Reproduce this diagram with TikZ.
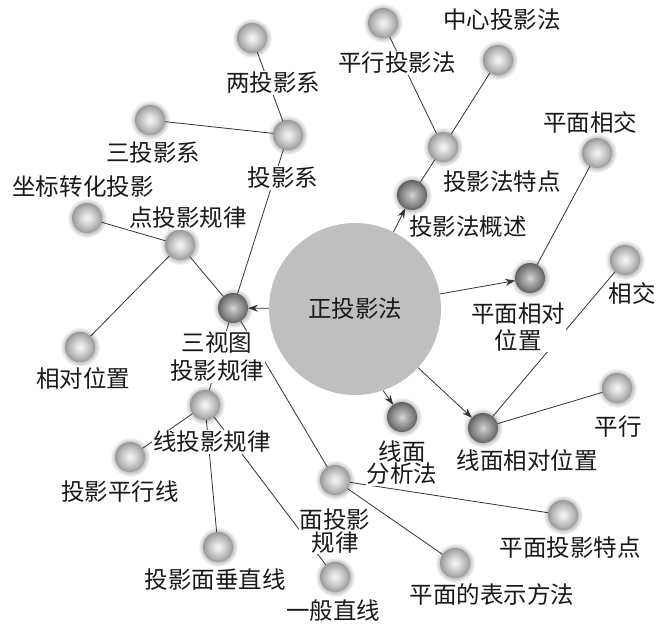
\documentclass[tikz,border=0pt]{standalone}
\usepackage{fontspec}
\newfontfamily\cjk{Noto Sans CJK SC}
\usetikzlibrary{arrows.meta}
\pgfdeclarelayer{halolayer}
\pgfdeclarelayer{linelayer}
\pgfsetlayers{halolayer,linelayer,main}
\pgfdeclareradialshading{lightball}{\pgfpoint{0bp}{0bp}}{color(0bp)=(white!96!black); color(6bp)=(white!90!black); color(18bp)=(black!28); color(25bp)=(black!40); color(50bp)=(black!40)}
\pgfdeclareradialshading{darkball}{\pgfpoint{0bp}{0bp}}{color(0bp)=(white!85!black); color(6bp)=(black!28); color(18bp)=(black!48); color(25bp)=(black!62); color(50bp)=(black!62)}
\pgfdeclareradialshading{haloshade}{\pgfpoint{0bp}{0bp}}{color(0bp)=(black!30); color(17bp)=(black!30); color(25bp)=(white); color(50bp)=(white)}
\tikzset{
  ballL/.style={circle, minimum size=30pt, inner sep=0pt, outer sep=0pt, shading=lightball},
  ballD/.style={circle, minimum size=30pt, inner sep=0pt, outer sep=0pt, shading=darkball},
  lab/.style={fill=white, inner sep=1pt, font=\cjk\fontsize{23.5}{26}\selectfont, text=black!90, align=center},
  con/.style={draw=black!80, line width=0.8pt},
  arr/.style={con, -{Stealth[length=10pt,width=7pt]}},
}
\begin{document}
\begin{tikzpicture}[x=1pt,y=-1pt]
\useasboundingbox (0,0) rectangle (660,627);
% central circle
\node[circle, fill=black!25, minimum size=172pt, inner sep=0pt, font=\cjk\fontsize{23.5}{26}\selectfont, text=black!90] (c) at (355,309) {正投影法};
% labels
\node[lab] (tA) at (273,83) {两投影系};
\node[lab] (tB) at (283,178) {投影系};
\node[lab] (tC) at (153,153) {三投影系};
\node[lab] (tD) at (83,187) {坐标转化投影};
\node[lab] (tE) at (188,218) {点投影规律};
\node[lab] (tF) at (217,357) {三视图\\[2pt]投影规律};
\node[lab] (tG) at (83,378) {相对位置};
\node[lab] (tH) at (212,442) {线投影规律};
\node[lab] (tI) at (120,492) {投影平行线};
\node[lab] (tJ) at (215,580) {投影面垂直线};
\node[lab] (tK) at (333,611) {一般直线};
\node[lab] (tL) at (335,531) {面投影\\[-3pt]规律};
\node[lab] (tM) at (492,595) {平面的表示方法};
\node[lab] (tN) at (570,548) {平面投影特点};
\node[lab] (tO) at (402,463) {线面\\[-4pt]分析法};
\node[lab] (tP) at (527,460) {线面相对位置};
\node[lab] (tQ) at (618,427) {平行};
\node[lab] (tR) at (632,293) {相交};
\node[lab] (tS) at (518,327) {平面相对\\[1pt]位置};
\node[lab] (tT) at (590,122) {平面相交};
\node[lab] (tU) at (468,227) {投影法概述};
\node[lab] (tV) at (502,182) {投影法特点};
\node[lab] (tW) at (397,63) {平行投影法};
\node[lab] (tX) at (502,20) {中心投影法};
% balls
\node[ballL] (pA) at (252,38) {};
\node[ballL] (pB) at (288,135) {};
\node[ballL] (pC) at (150,120) {};
\node[ballL] (pD) at (87,218) {};
\node[ballL] (pE) at (180,245) {};
\node[ballD] (pF) at (233,308) {};
\node[ballL] (pG) at (80,347) {};
\node[ballL] (pH) at (205,405) {};
\node[ballL] (pI) at (130,457) {};
\node[ballL] (pJ) at (218,547) {};
\node[ballL] (pK) at (335,577) {};
\node[ballL] (pL) at (335,480) {};
\node[ballL] (pM) at (455,563) {};
\node[ballL] (pN) at (563,515) {};
\node[ballD] (pO) at (402,417) {};
\node[ballD] (pP) at (483,428) {};
\node[ballL] (pQ) at (617,388) {};
\node[ballL] (pR) at (625,260) {};
\node[ballD] (pS) at (530,278) {};
\node[ballL] (pT) at (597,153) {};
\node[ballD] (pU) at (412,195) {};
\node[ballL] (pV) at (443,147) {};
\node[ballL] (pW) at (383,23) {};
\node[ballL] (pX) at (498,60) {};
% halos
\begin{pgfonlayer}{halolayer}
\foreach \n in {pA,pB,pC,pD,pE,pF,pG,pH,pI,pJ,pK,pL,pM,pN,pO,pP,pQ,pR,pS,pT,pU,pV,pW,pX}
  \shade[shading=haloshade] (\n.center) circle (20pt);
\end{pgfonlayer}
% connectors
\begin{pgfonlayer}{linelayer}
\draw[con] (pB) -- (pA);
\draw[con] (pB) -- (pC);
\draw[con] (pF) -- (pB);
\draw[con] (pE) -- (pD);
\draw[con] (pE) -- (pG);
\draw[con] (pE) -- (pF);
\draw[con] (pF) -- (pH);
\draw[con] (pF) -- (pL);
\draw[con] (pH) -- (pI);
\draw[con] (pH) -- (pJ);
\draw[con] (pH) -- (pK);
\draw[con] (pL) -- (pN);
\draw[con] (pL) -- (pM);
\draw[con] (pP) -- (pR);
\draw[con] (pP) -- (pQ);
\draw[con] (pS) -- (pT);
\draw[con] (pU) -- (pV);
\draw[con] (pV) -- (pW);
\draw[con] (pV) -- (pX);
\draw[arr] (c) -- (pU);
\draw[arr] (c) -- (pS);
\draw[arr] (c) -- (pF);
\draw[arr] (c.-71) -- (pO);
\draw[arr] (c) -- (pP);
\end{pgfonlayer}
\end{tikzpicture}
\end{document}
